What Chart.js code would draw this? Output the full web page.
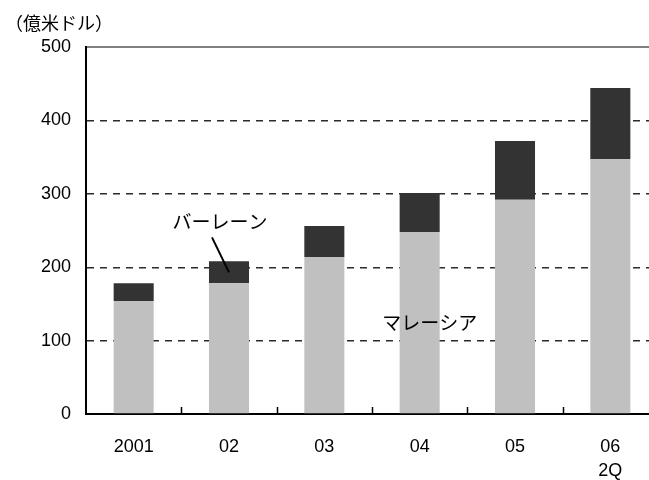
<!DOCTYPE html>
<html>
<head>
<meta charset="utf-8">
<script src="https://cdn.jsdelivr.net/npm/chart.js@4/dist/chart.umd.min.js"></script>
<style>
  html, body { margin: 0; padding: 0; background: #fff; overflow: hidden; }
  #wrap { width: 649px; height: 480px; overflow: hidden; position: relative; }
  canvas { display: block; }
</style>
</head>
<body>
<div id="wrap"><canvas id="c" width="660" height="480"></canvas></div>
<script>
// Year labels (second line on the last one marks the quarter)
const categories = [['2001'], ['02'], ['03'], ['04'], ['05'], ['06', '2Q']];
// Outstanding amounts, 100 million USD
const malaysia = [154, 178, 214, 248, 292, 347];
const bahrain  = [24, 30, 42, 53, 80, 97];
const yTicks = [0, 100, 200, 300, 400, 500];
const unitLabel = '（億米ドル）';
const seriesNames = ['マレーシア', 'バーレーン'];

const jpFont = '"Noto Sans CJK JP", "Noto Sans", sans-serif';
const numFont = '"Liberation Sans", Arial, sans-serif';

// Unit caption, inward category ticks and the two series call-outs
const annotations = {
  id: 'annotations',
  afterDraw(chart) {
    const { ctx, scales: { x, y } } = chart;
    ctx.save();

    // short upward ticks at category boundaries
    const n = categories.length;
    const step = (x.right - x.left) / n;
    ctx.strokeStyle = '#000';
    ctx.lineWidth = 1.5;
    ctx.beginPath();
    for (let i = 1; i <= n; i++) {
      const px = Math.round(x.left + i * step) + 0.5;
      ctx.moveTo(px, y.bottom);
      ctx.lineTo(px, y.bottom - 7);
    }
    ctx.stroke();

    ctx.fillStyle = '#000';
    ctx.textBaseline = 'middle';

    ctx.font = '18px ' + jpFont;
    ctx.textAlign = 'left';
    ctx.fillText(unitLabel, 5, 23);

    ctx.font = '19px ' + jpFont;
    ctx.textAlign = 'center';
    // Bahrain label with leader into the 02 segment
    const bx = x.getPixelForValue(1);
    const by = y.getPixelForValue(malaysia[1] + bahrain[1] / 2);
    ctx.fillText(seriesNames[1], bx - 9, y.getPixelForValue(262));
    ctx.lineWidth = 2;
    ctx.beginPath();
    ctx.moveTo(bx - 17, by - 35);
    ctx.lineTo(bx, by);
    ctx.stroke();

    // Malaysia label
    const mx = x.getPixelForValue(3) + 10;
    ctx.fillText(seriesNames[0], mx, y.getPixelForValue(124));
    ctx.restore();
  }
};

new Chart(document.getElementById('c'), {
  type: 'bar',
  data: {
    labels: categories,
    datasets: [
      { label: seriesNames[0], data: malaysia, backgroundColor: '#c0c0c0', borderWidth: 0 },
      { label: seriesNames[1], data: bahrain,  backgroundColor: '#333333', borderWidth: 0 }
    ]
  },
  options: {
    responsive: false,
    animation: false,
    devicePixelRatio: 1,
    layout: { padding: { top: 47, right: 2, left: 0, bottom: 0 } },
    datasets: { bar: { barPercentage: 0.42, categoryPercentage: 1 } },
    plugins: { legend: { display: false }, tooltip: { enabled: false } },
    scales: {
      x: {
        stacked: true,
        offset: true,
        afterFit(s) { s.height = 66; },
        grid: { display: false },
        border: { display: true, color: '#000', width: 2 },
        ticks: {
          color: '#000',
          font: { family: numFont, size: 18, lineHeight: 1.35 },
          padding: 13,
          maxRotation: 0,
          autoSkip: false
        }
      },
      y: {
        stacked: true,
        min: 0,
        max: 500,
        afterFit(s) { s.width = 86; },
        afterBuildTicks(s) { s.ticks = yTicks.map(v => ({ value: v })); },
        grid: {
          drawTicks: false,
          color: c => c.tick.value === 500 ? '#808080' : (c.tick.value === 0 ? 'rgba(0,0,0,0)' : '#2a2a2a'),
          lineWidth: c => c.tick.value === 500 ? 2 : 1.4
        },
        border: {
          display: true,
          color: '#000',
          width: 2,
          dash: c => (c.tick && c.tick.value === 500) ? [] : [7, 6]
        },
        ticks: {
          color: '#000',
          font: { family: numFont, size: 18 },
          padding: 15
        }
      }
    }
  },
  plugins: [annotations]
});
</script>
</body>
</html>
